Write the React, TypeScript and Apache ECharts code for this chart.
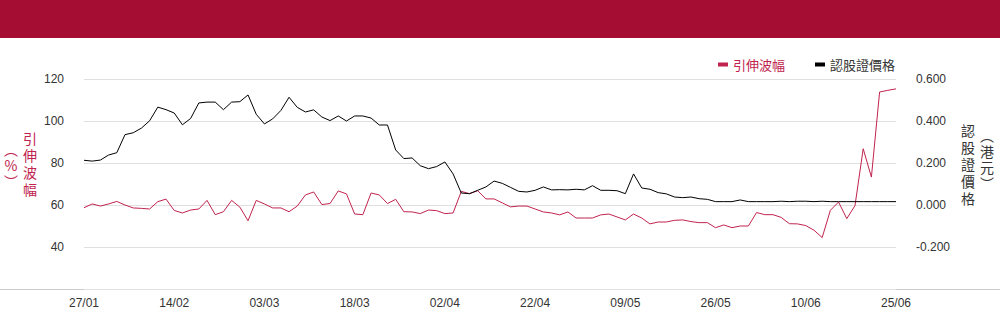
import React, { useEffect, useRef } from "react";
import * as echarts from "echarts";

const dates: string[] = [
  "27/01", "28/01",
  "03/02", "04/02", "05/02", "06/02", "07/02", "10/02", "11/02", "12/02", "13/02", "14/02",
  "17/02", "18/02", "19/02", "20/02", "21/02", "24/02", "25/02", "26/02", "27/02", "28/02",
  "03/03", "04/03", "05/03", "06/03", "07/03", "10/03", "11/03", "12/03", "13/03", "14/03",
  "17/03", "18/03", "19/03", "20/03", "21/03", "24/03", "25/03", "26/03", "27/03", "28/03", "31/03",
  "01/04", "02/04", "03/04", "07/04", "08/04", "09/04", "10/04", "11/04", "14/04", "15/04", "16/04",
  "17/04", "22/04", "23/04", "24/04", "25/04", "28/04", "29/04", "30/04",
  "02/05", "06/05", "07/05", "08/05", "09/05", "12/05", "13/05", "14/05", "15/05", "16/05",
  "19/05", "20/05", "21/05", "22/05", "23/05", "26/05", "27/05", "28/05", "29/05", "30/05",
  "02/06", "03/06", "04/06", "05/06", "06/06", "09/06", "10/06", "11/06", "12/06", "13/06",
  "16/06", "17/06", "18/06", "19/06", "20/06", "23/06", "24/06", "25/06",
];

const impliedVol: number[] = [
  58.7, 60.5, 59.5, 60.5, 61.7, 60.0, 58.6, 58.4, 58.1, 61.6,
  62.8, 57.4, 56.2, 57.6, 58.1, 62.2, 55.4, 56.8, 62.2, 59.0,
  52.5, 62.2, 60.5, 58.6, 58.6, 56.8, 59.5, 64.8, 66.2, 60.2,
  60.7, 66.7, 65.3, 55.7, 55.4, 65.7, 64.8, 60.7, 62.7, 56.8,
  56.7, 55.9, 57.6, 57.3, 55.9, 56.2, 66.5, 65.4, 66.8, 62.9,
  62.9, 61.0, 59.1, 59.5, 59.5, 58.1, 56.7, 56.2, 55.3, 56.7,
  53.8, 53.8, 53.8, 55.3, 55.7, 54.3, 52.9, 55.7, 53.8, 51.0,
  51.9, 51.9, 52.7, 52.9, 52.1, 51.6, 51.6, 49.2, 50.5, 49.2,
  50.0, 50.0, 56.4, 55.4, 55.4, 54.1, 51.1, 51.0, 50.2, 48.0,
  44.5, 57.5, 61.4, 53.5, 59.7, 86.8, 73.3, 113.8, 114.6, 115.3,
];

const warrantPrice: number[] = [
  0.213, 0.209, 0.214, 0.238, 0.249, 0.335, 0.344, 0.366, 0.401, 0.466,
  0.454, 0.438, 0.382, 0.412, 0.486, 0.490, 0.490, 0.454, 0.490, 0.492,
  0.524, 0.432, 0.386, 0.410, 0.450, 0.513, 0.465, 0.443, 0.453, 0.419,
  0.402, 0.424, 0.400, 0.424, 0.424, 0.414, 0.381, 0.381, 0.262, 0.221,
  0.224, 0.187, 0.173, 0.183, 0.205, 0.148, 0.057, 0.054, 0.070, 0.086,
  0.114, 0.103, 0.084, 0.065, 0.062, 0.070, 0.086, 0.072, 0.073, 0.072,
  0.075, 0.072, 0.092, 0.070, 0.070, 0.068, 0.054, 0.148, 0.081, 0.075,
  0.059, 0.053, 0.038, 0.035, 0.038, 0.030, 0.027, 0.016, 0.016, 0.016,
  0.024, 0.016, 0.016, 0.016, 0.016, 0.018, 0.016, 0.018, 0.018, 0.016,
  0.018, 0.016, 0.016, 0.016, 0.016, 0.016, 0.016, 0.016, 0.016, 0.016,
];

const seriesNames = ["引伸波幅", "認股證價格"];
const RED = "#c0234e";
const DARK = "#333333";
const CJK = "'Noto Sans CJK TC', 'Noto Sans CJK SC', sans-serif";
const NUM = "'Liberation Sans', Arial, sans-serif";

export default function App() {
  const ref = useRef<HTMLDivElement>(null);

  useEffect(() => {
    document.body.style.margin = "0";
    if (!ref.current) return;
    const chart = echarts.init(ref.current, undefined, { renderer: "svg" });
    chart.setOption({
      animation: false,
      backgroundColor: "#ffffff",
      grid: { left: 84, right: 104, top: 79, bottom: 35, containLabel: false },
      legend: {
        right: 100,
        top: 53,
        icon: "rect",
        itemWidth: 10,
        itemHeight: 4,
        itemGap: 30,
        textStyle: { fontFamily: CJK, fontSize: 13, color: DARK },
        data: [
          { name: seriesNames[0], textStyle: { color: RED } },
          { name: seriesNames[1], textStyle: { color: DARK } },
        ],
      },
      xAxis: {
        type: "category",
        data: dates,
        boundaryGap: false,
        axisLine: { show: false },
        axisTick: { show: false },
        axisLabel: {
          interval: 10,
          color: DARK,
          fontSize: 12,
          fontFamily: NUM,
          margin: 8,
        },
        splitLine: { show: false },
      },
      yAxis: [
        {
          type: "value",
          min: 20,
          max: 120,
          interval: 20,
          axisLine: { show: false },
          axisTick: { show: false },
          axisLabel: {
            showMinLabel: false,
            color: DARK,
            fontSize: 12,
            fontFamily: NUM,
            margin: 20,
          },
          splitLine: { show: true, lineStyle: { color: "#e0e0e0", width: 1 } },
        },
        {
          type: "value",
          min: -0.4,
          max: 0.6,
          interval: 0.2,
          position: "right",
          axisLine: { show: false },
          axisTick: { show: false },
          axisLabel: {
            showMinLabel: false,
            color: DARK,
            fontSize: 12,
            fontFamily: NUM,
            margin: 20,
            formatter: (v: number) => (Math.abs(v) < 1e-9 ? "0.000" : v.toFixed(3)),
          },
          splitLine: { show: false },
        },
      ],
      series: [
        {
          name: seriesNames[0],
          type: "line",
          yAxisIndex: 0,
          data: impliedVol,
          symbol: "none",
          color: RED,
          lineStyle: { color: RED, width: 1 },
        },
        {
          name: seriesNames[1],
          type: "line",
          yAxisIndex: 1,
          data: warrantPrice,
          symbol: "none",
          color: "#000000",
          lineStyle: { color: "#000000", width: 1 },
        },
      ],
      graphic: [
        {
          type: "rect",
          shape: { x: 0, y: 0, width: 1000, height: 38 },
          style: { fill: "#a60d33" },
          silent: true,
        },
        {
          type: "line",
          shape: { x1: 0, y1: 289.5, x2: 1000, y2: 289.5 },
          style: { stroke: "#cccccc", lineWidth: 1 },
          silent: true,
        },
        {
          type: "text",
          x: 30,
          y: 163.5,
          style: {
            text: "引\n伸\n波\n幅",
            fill: RED,
            font: `14px ${CJK}`,
            lineHeight: 17,
            align: "center",
            verticalAlign: "middle",
          },
        },
        {
          type: "text",
          x: 11,
          y: 165,
          style: {
            text: "︵\n%\n︶",
            fill: RED,
            font: `14px ${CJK}`,
            lineHeight: 16,
            align: "center",
            verticalAlign: "middle",
          },
        },
        {
          type: "text",
          x: 968,
          y: 164,
          style: {
            text: "認\n股\n證\n價\n格",
            fill: DARK,
            font: `14px ${CJK}`,
            lineHeight: 17,
            align: "center",
            verticalAlign: "middle",
          },
        },
        {
          type: "text",
          x: 987,
          y: 159,
          style: {
            text: "︵\n港\n元\n︶",
            fill: DARK,
            font: `14px ${CJK}`,
            lineHeight: 16,
            align: "center",
            verticalAlign: "middle",
          },
        },
      ],
    });
    return () => chart.dispose();
  }, []);

  return <div ref={ref} style={{ width: 1000, height: 324 }} />;
}
